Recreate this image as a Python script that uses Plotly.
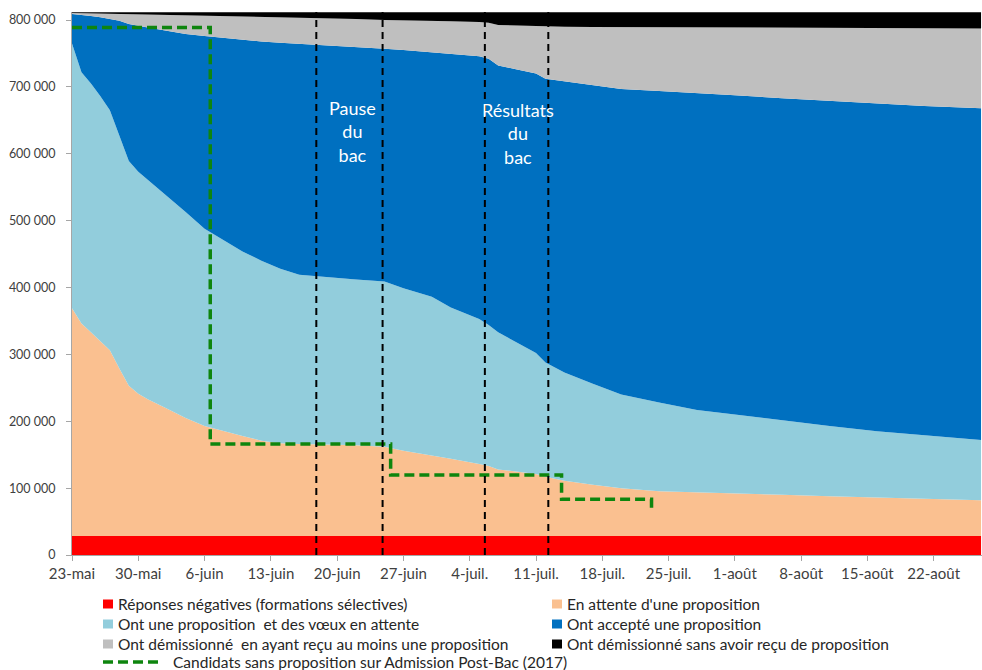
import pandas as pd
import plotly.graph_objects as go

# --------------------------
# Data (values in thousands of candidates)
# --------------------------
start = pd.Timestamp("2018-05-23")

days = [0, 1, 2, 3, 4, 5, 6, 7, 8, 10, 12, 14, 16, 18, 20, 22, 24, 26, 28, 30,
        33, 35, 38, 40, 43, 44, 45, 47, 49, 50, 52, 55, 58, 62, 66, 70, 75, 80,
        85, 90, 96]

red = [28.5, 28.5, 28.5, 28.5, 28.5, 28.5, 28.5, 28.5, 28.5, 28.5,
       28.5, 28.5, 28.5, 28.5, 28.5, 28.5, 28.5, 28.5, 28.5, 28.5,
       28.5, 28.5, 28.5, 28.5, 28.5, 28.5, 28.5, 28.5, 28.5, 28.5,
       28.5, 28.5, 28.5, 28.5, 28.5, 28.5, 28.5, 28.5, 28.5, 28.5, 28.5]

peach = [340.5, 317.5, 304.5, 290.5, 277.5, 250.5, 224.5, 212.5, 204.5, 190.5,
         176.5, 164.5, 156.5, 149.5, 142.5, 138.5, 137.5, 137.5, 136.5, 135.5,
         133.5, 127.5, 120.5, 115.5, 107.5, 104.5, 99.5, 95.5, 92.5, 88.5,
         82.5, 76.5, 71.5, 67, 65, 63.5, 61.5, 59.5, 57.5, 56, 53.5]

light_blue = [396, 376, 372, 367, 359, 348, 336, 332, 328, 319,
              308, 295, 286, 276, 269, 261, 253, 250.5, 249, 248,
              247, 243, 237, 226, 217, 211, 205, 194, 181, 171,
              162, 151, 140, 132.5, 123.5, 118, 111, 105, 99, 94.5, 90]

blue = [44, 86, 101, 118, 136.5, 172, 205, 218, 228, 246,
        266, 288, 302, 316.5, 328, 338, 345.5, 346.5, 347.5, 347.5,
        348, 356, 366, 379, 393, 398, 399, 408, 418, 424,
        435, 447, 457, 466, 474, 477.5, 482, 486, 490, 492.5, 496]

gray = [1.5, 2.2, 4, 5.7, 7.9, 10.1, 14.8, 17.5, 19.3, 23.7,
        28.2, 30.6, 33, 35, 37, 38.4, 39.4, 40.3, 41.1, 42.1,
        43, 44.7, 47, 49.3, 51.2, 54, 60.5, 65.5, 70.5, 78,
        81.9, 86.7, 92.5, 95.2, 98, 101.2, 105.5, 109.2, 113, 116.3, 119.5]

black = [1, 1.3, 1.5, 1.8, 2.1, 2.4, 2.7, 3, 3.2, 3.8,
         4.3, 4.9, 5.5, 6, 6.5, 7.1, 7.6, 8.2, 8.9, 9.9,
         11.5, 11.8, 12.5, 13.2, 14.3, 15.5, 19, 20, 21, 21.5,
         21.6, 21.8, 22, 22.3, 22.5, 22.8, 23, 23.3, 23.5, 23.7, 24]

# Candidats sans proposition sur APB 2017 (step line)
apb_days = [0, 14.6, 33.65, 51.7, 61.2]
apb = [789, 166, 119.6, 83.3, 65]

# Pause du bac / résultats du bac
event_days = [25.8, 32.8, 43.6, 50.3]

tick_days = [0, 7, 14, 21, 28, 35, 42, 49, 56, 63, 70, 77, 84, 91]
tick_labels = ["23-mai", "30-mai", "6-juin", "13-juin", "20-juin", "27-juin",
               "4-juil.", "11-juil.", "18-juil.", "25-juil.", "1-août",
               "8-août", "15-août", "22-août"]
y_ticks = [0, 100000, 200000, 300000, 400000, 500000, 600000, 700000, 800000]

series = [
    ("Réponses négatives (formations sélectives)", red, "#FF0000"),
    ("En attente d'une proposition", peach, "#FAC090"),
    ("Ont une proposition  et des vœux en attente", light_blue, "#92CDDC"),
    ("Ont accepté une proposition", blue, "#0070C0"),
    ("Ont démissionné  en ayant reçu au moins une proposition", gray, "#BFBFBF"),
    ("Ont démissionné sans avoir reçu de proposition", black, "#000000"),
]


def to_date(d):
    return start + pd.Timedelta(days=d)


dates = [to_date(d) for d in days]

fig = go.Figure()
for name, vals, color in series:
    fig.add_trace(go.Scatter(
        x=dates, y=[v * 1000 for v in vals], name=name, mode="lines",
        stackgroup="one", line=dict(width=0, color=color),
        fillcolor=color, showlegend=False,
    ))

fig.add_trace(go.Scatter(
    x=[to_date(d) for d in apb_days], y=[v * 1000 for v in apb],
    mode="lines", line=dict(color="#0E850E", width=3.5, dash="10px,5px", shape="hv"),
    name="Candidats sans proposition sur Admission Post-Bac (2017)",
    showlegend=False,
))

# vertical dashed lines
for d in event_days:
    fig.add_shape(type="line", xref="x", yref="paper", x0=to_date(d), x1=to_date(d),
                  y0=0, y1=1.0, line=dict(color="black", width=2, dash="7px,5px"),
                  layer="above")

fig.add_annotation(x=to_date(29.6), y=634000, text="Pause<br>du<br>bac",
                   showarrow=False, font=dict(color="white", size=18, family="Lato"))
fig.add_annotation(x=to_date(47.1), y=631000, text="Résultats<br>du<br>bac",
                   showarrow=False, font=dict(color="white", size=18, family="Lato"))

# --------------------------
# Hand-made legend below the plot
# --------------------------
L, R, T, B = 72, 982, 12, 555


def px(xp):
    return (xp - L) / (R - L)


def py(yp):
    return (B - yp) / (B - T)


legend_rows = [604, 624, 644]
legend_cols = [103, 552]
for i, (name, vals, color) in enumerate(series):
    row, col = divmod(i, 2)
    x0 = legend_cols[col]
    yc = legend_rows[row]
    fig.add_shape(type="rect", xref="paper", yref="paper",
                  x0=px(x0), x1=px(x0 + 10), y0=py(yc + 4.5), y1=py(yc - 4.5),
                  fillcolor=color, line=dict(width=0))
    fig.add_annotation(xref="paper", yref="paper", x=px(x0 + 13), y=py(yc),
                       xanchor="left", yanchor="middle", text=name, showarrow=False,
                       font=dict(size=15.5, color="#262626", family="Lato"))

fig.add_shape(type="line", xref="paper", yref="paper", x0=px(103), x1=px(163),
              y0=py(662), y1=py(662), line=dict(color="#0E850E", width=3.5, dash="10px,5px"))
fig.add_annotation(xref="paper", yref="paper", x=px(171), y=py(662), xanchor="left",
                   yanchor="middle", text="Candidats sans proposition sur Admission Post-Bac (2017)",
                   showarrow=False, font=dict(size=15.5, color="#262626", family="Lato"))

fig.update_layout(
    width=982, height=670,
    margin=dict(l=L, r=982 - R, t=T, b=670 - B),
    plot_bgcolor="white", paper_bgcolor="white",
    font=dict(family="Lato", color="#404040"),
    showlegend=False,
)
fig.update_xaxes(
    range=[to_date(0), to_date(96.1)], tickvals=[to_date(d) for d in tick_days],
    ticktext=tick_labels, showgrid=False, zeroline=False, automargin=False,
    showline=True, linecolor="#A6A6A6", linewidth=1,
    ticks="outside", ticklen=5, tickcolor="#A6A6A6", tickfont=dict(size=15),
)
fig.update_yaxes(
    range=[0, 812000], tickvals=y_ticks,
    ticktext=[f"{v:,}".replace(",", "\u202f") for v in y_ticks],
    showgrid=False, zeroline=False, showline=True, linecolor="#A6A6A6", linewidth=1,
    ticks="outside", ticklen=5, tickcolor="#A6A6A6", tickfont=dict(size=12.5),
    ticklabelstandoff=8, automargin=False,
)

# the page body has a default 8px margin; remove it so the figure fills the window
fig.write_html("out.html", config={"displayModeBar": False},
               post_script="document.body.style.margin = '0';")
